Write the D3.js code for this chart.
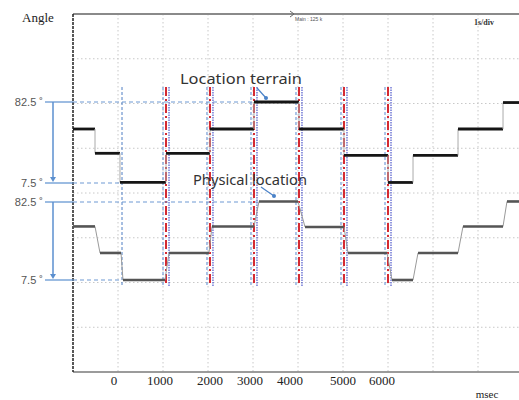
<!DOCTYPE html>
<html><head><meta charset="utf-8">
<script src="https://cdn.jsdelivr.net/npm/d3@7"></script>
<style>body{margin:0;background:#fff}svg{display:block}</style>
</head><body><svg id="c" width="519" height="400"></svg>
<script>
// ---- data (time in ms on the scope screen, angle in degrees) ----
const topSteps = [[0,57.5],[489,35],[1044,8],[2067,35],[3044,57.5],[4022,82.5],[5022,57.5],[6022,33],[7000,8],[7556,33],[8556,57.5],[9556,82],[10000,82]];
const lowPoints = [[0,59],[489,59],[600,33.5],[1067,33.5],[1111,7.5],[2044,7.5],[2133,33.5],[3022,33.5],[3089,59],[4022,59],[4133,83],[5000,83],[5156,58.5],[6022,58.5],[6111,33.5],[6978,33.5],[7089,7.5],[7556,7.5],[7667,33.5],[8556,33.5],[8667,59],[9556,59],[9644,83],[10000,83]];
const markerTimes = [2067,3044,4022,5022,6022,7000];
const loneMarker = 1089;
const tickLabels = ["0","1000","2000","3000","4000","5000","6000"];
const tickTimes = [911,1933,3044,3933,4822,6000,6867];
const refLines = [{trace:"top",angle:82.5,end:4044,label:"82.5 \u02da"},{trace:"top",angle:7.5,end:1067,label:"7.5 \u02da"},{trace:"low",angle:82.5,end:4111,label:"82.5 \u02da"},{trace:"low",angle:7.5,end:1089,label:"7.5 \u02da"}];

const svg = d3.select("#c");
const L=73, R=523, T=14, B=372;
const x = d3.scaleLinear().domain([0,10000]).range([L,R]);
const div = d3.scaleLinear().domain([0,8]).range([B,T]);
const yTop = d3.scaleLinear().domain([7.5,82.5]).range([183,102]);
const yLow = d3.scaleLinear().domain([7.5,82.5]).range([280,202]);
const yOf = {top:yTop, low:yLow};

svg.append("rect").attr("width",519).attr("height",400).attr("fill","#fff");

// grid
const g = svg.append("g");
g.selectAll(".vg").data(d3.range(1000,10000,1000)).join("line")
  .attr("x1",d=>x(d)).attr("x2",d=>x(d)).attr("y1",T).attr("y2",B)
  .attr("stroke","#c8c8c8").attr("stroke-dasharray","1.5,2.5");
g.selectAll(".hg").data(d3.range(1,8)).join("line")
  .attr("x1",L).attr("x2",519).attr("y1",d=>div(d)).attr("y2",d=>div(d))
  .attr("stroke","#c8c8c8").attr("stroke-dasharray","1.5,2.5");
// frame
g.append("line").attr("x1",L).attr("x2",519).attr("y1",T).attr("y2",T).attr("stroke","#8a8a8a").attr("stroke-width",2);
g.append("line").attr("x1",L).attr("x2",519).attr("y1",B).attr("y2",B).attr("stroke","#7a7a7a").attr("stroke-width",1.5);
g.append("line").attr("x1",L).attr("x2",L).attr("y1",T).attr("y2",B).attr("stroke","#222").attr("stroke-width",1.5).attr("stroke-dasharray","3,1");

// top texts
svg.append("text").attr("x",295).attr("y",21).attr("font-size",5).attr("fill","#555").attr("font-family","Liberation Sans").text("Main : 125 k");
svg.append("text").attr("x",474).attr("y",25).attr("font-size",8).attr("font-weight","bold").attr("fill","#333").attr("font-family","Liberation Serif").text("1s/div");
svg.append("path").attr("d","M290,11 L294,14 L290,17").attr("fill","none").attr("stroke","#666").attr("stroke-width",1);

// markers
const mk = svg.append("g");
mk.append("line").attr("x1",x(loneMarker)).attr("x2",x(loneMarker)).attr("y1",87).attr("y2",286)
  .attr("stroke","#4f7fc4").attr("stroke-width",1).attr("stroke-dasharray","3,2");
markerTimes.forEach(t=>{
  mk.append("line").attr("x1",x(t)-3).attr("x2",x(t)-3).attr("y1",87).attr("y2",286)
    .attr("stroke","#5a8ad0").attr("stroke-width",1).attr("stroke-dasharray","3,2");
  mk.append("line").attr("x1",x(t)+3).attr("x2",x(t)+3).attr("y1",87).attr("y2",286)
    .attr("stroke","#2a35c0").attr("stroke-width",1).attr("stroke-dasharray","1.5,1");
  mk.append("line").attr("x1",x(t)).attr("x2",x(t)).attr("y1",87).attr("y2",286)
    .attr("stroke","#d42a32").attr("stroke-width",2).attr("stroke-dasharray","9,3,2,3");
});

// reference lines
const rl = svg.append("g");
refLines.forEach(r=>{
  const y = yOf[r.trace](r.angle);
  rl.append("line").attr("x1",45).attr("x2",L).attr("y1",y).attr("y2",y).attr("stroke","#5b8fcf").attr("stroke-width",1.2);
  rl.append("line").attr("x1",L).attr("x2",x(r.end)).attr("y1",y).attr("y2",y).attr("stroke","#6f9ad4").attr("stroke-width",1.2).attr("stroke-dasharray","4,3");
  rl.append("text").attr("x",43).attr("y",y+4).attr("text-anchor","end").attr("font-size",11)
    .attr("font-family","Liberation Sans").attr("fill","#555").text(r.label);
});
["top","low"].forEach(k=>{
  const y1=yOf[k](82.5), y2=yOf[k](7.5);
  rl.append("line").attr("x1",53).attr("x2",53).attr("y1",y1).attr("y2",y2-3).attr("stroke","#5b8fcf").attr("stroke-width",1.5);
  rl.append("path").attr("d",`M50,${y2-6} L53,${y2-1} L56,${y2-6} Z`).attr("fill","#5b8fcf");
});

// lower trace (physical location)
const lowLine = d3.line().x(d=>x(d[0])).y(d=>yLow(d[1]));
svg.append("path").attr("d",lowLine(lowPoints)).attr("fill","none").attr("stroke","#9a9a9a").attr("stroke-width",1);
for(let i=0;i<lowPoints.length-1;i++){
  const a=lowPoints[i], b=lowPoints[i+1];
  if(a[1]===b[1]) svg.append("line").attr("x1",x(a[0])).attr("x2",x(b[0])).attr("y1",yLow(a[1])).attr("y2",yLow(b[1]))
    .attr("stroke","#555").attr("stroke-width",2.6);
}

// top trace (location terrain)
for(let i=0;i<topSteps.length-1;i++){
  const a=topSteps[i], b=topSteps[i+1];
  if(i>0) svg.append("line").attr("x1",x(a[0])).attr("x2",x(a[0])).attr("y1",yTop(topSteps[i-1][1])).attr("y2",yTop(a[1]))
    .attr("stroke","#aaa").attr("stroke-width",1);
  svg.append("line").attr("x1",x(a[0])).attr("x2",x(b[0])).attr("y1",yTop(a[1])).attr("y2",yTop(a[1]))
    .attr("stroke","#151515").attr("stroke-width",2.8);
}

// annotations
svg.append("text").attr("x",180).attr("y",84).attr("font-size",14).attr("font-family","Noto Sans").attr("fill","#333")
  .attr("textLength",122).attr("lengthAdjust","spacingAndGlyphs").text("Location terrain");
svg.append("line").attr("x1",257).attr("y1",88).attr("x2",266).attr("y2",98).attr("stroke","#4a82c8").attr("stroke-width",1.2);
svg.append("circle").attr("cx",266).attr("cy",98).attr("r",2).attr("fill","#4a82c8");
svg.append("text").attr("x",193).attr("y",185).attr("font-size",14).attr("font-family","Noto Sans").attr("fill","#333")
  .attr("textLength",114).attr("lengthAdjust","spacingAndGlyphs").text("Physical location");
svg.append("line").attr("x1",261).attr("y1",187).attr("x2",274).attr("y2",196).attr("stroke","#4a82c8").attr("stroke-width",1.2);
svg.append("circle").attr("cx",274).attr("cy",196).attr("r",2).attr("fill","#4a82c8");

// axis labels
svg.append("text").attr("x",22).attr("y",22).attr("font-size",13).attr("font-family","Liberation Serif").attr("fill","#222").text("Angle");
svg.selectAll(".tl").data(tickLabels).join("text")
  .attr("x",(d,i)=>x(tickTimes[i])).attr("y",385).attr("text-anchor","middle")
  .attr("font-size",13).attr("font-family","Liberation Serif").attr("fill","#222").text(d=>d);
svg.append("text").attr("x",487).attr("y",398).attr("text-anchor","middle").attr("font-size",11).attr("font-family","Liberation Serif").attr("fill","#222").text("msec");
</script></body></html>
